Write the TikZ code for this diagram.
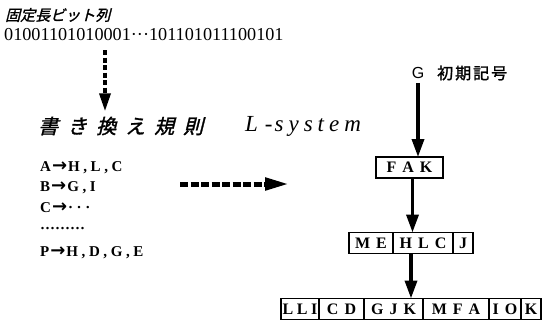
\documentclass[tikz,border=0pt]{standalone}
\usepackage{fontspec}
\setmainfont{Liberation Serif}
\newfontfamily\tms{Liberation Serif}
\newfontfamily\tmsls[LetterSpace=24]{Liberation Serif}
\newfontfamily\jpit[FakeSlant=0.25,FakeBold=1.5]{Noto Sans CJK JP}
\newfontfamily\jp[FakeBold=1.5]{Noto Sans CJK JP}
\newfontfamily\hv{Liberation Sans}
\newfontfamily\djv{DejaVu Sans}
\usetikzlibrary{arrows.meta}
\newcommand\lgap{\hspace{6pt}}
\newcommand\sgap{\hspace{3.5pt}}
\newcommand\rarr{\hspace{1pt}{\djv\bfseries\fontsize{18}{14}\selectfont →}\hspace{1pt}}
\tikzset{
  cell/.style={draw, line width=1.4pt, inner sep=0pt, outer sep=0pt, minimum height=21pt, anchor=west, font=\tms\bfseries\fontsize{16}{16}\selectfont},
  solidarrow/.style={line width=3.5pt, -{Triangle[length=18pt,width=12pt]}},
  dasharrow/.style={line width=3.5pt, dash pattern=on 5pt off 2.5pt, -{Triangle[length=18pt,width=11pt]}},
  bigdash/.style={line width=5pt, dash pattern=on 8pt off 2.5pt, -{Triangle[length=24pt,width=12pt]}},
  rule/.style={anchor=west, inner sep=0pt, font=\tmsls\bfseries\fontsize{15}{15}\selectfont},
}
\begin{document}
\begin{tikzpicture}[x=1pt,y=-1pt]
\useasboundingbox (0,0) rectangle (543,327);
% top left
\node[anchor=west, inner sep=0pt, font=\jpit\fontsize{15}{15}\selectfont] (title) at (5,15) {固定長ビット列};
\node[anchor=west, inner sep=0pt, font=\tms\fontsize{18.2}{18.2}\selectfont] (bits) at (4,35) {01001101010001···101101011100101};
\coordinate (d1) at (105,50);
\node[inner sep=0pt] (hdr) at (105,112) {};
\draw[dasharrow] (d1) -- (hdr.north);
% headings
\node[anchor=west, inner sep=0pt, font=\jpit\fontsize{20}{20}\selectfont] (rw) at (38,126) {書\hspace{9pt}き\hspace{9pt}換\hspace{9pt}え\hspace{9pt}規\hspace{9pt}則};
\node[anchor=west, inner sep=0pt, font=\itshape\fontsize{23}{23}\selectfont] (ls) at (245,126) {L\hspace{7pt}-\hspace{2pt}s\hspace{5pt}y\hspace{5pt}s\hspace{5pt}t\hspace{5pt}e\hspace{5pt}m};
% rules
\node[rule] (ra) at (40,168) {A\rarr H,L,C};
\node[rule] (rb) at (40,188) {B\rarr G,I};
\node[rule] (rc) at (40,208) {C\rarr ···};
\node[anchor=west, inner sep=0pt, font=\tms\bfseries\fontsize{15}{15}\selectfont] (rd) at (40,230) {·········};
\node[rule] (rp) at (40,253) {P\rarr H,D,G,E};
\coordinate (h1) at (180,184);
\coordinate (h2) at (289,184);
\draw[bigdash] (h1) -- (h2);
% L-system derivation
\node[inner sep=0pt, anchor=center, font=\hv\fontsize{16}{16}\selectfont] (g) at (418,73) {G};
\node[anchor=west, inner sep=0pt, font=\jp\fontsize{16}{16}\selectfont] (init) at (437,73) {初\hspace{2pt}期\hspace{2pt}記\hspace{2pt}号};
\node[cell, minimum width=67pt] (fak) at (376,167.5) {F\lgap A\lgap K};
\path (g.south) ++(0,4) coordinate (gs);
\draw[solidarrow] (gs) -- (fak.north -| gs);
% ME box
\node[cell, minimum width=44pt] (m1) at (349,243) {M\lgap E};
\node[cell, minimum width=60pt] (m2) at (m1.east) {H\lgap L\lgap C};
\node[cell, minimum width=20pt] (m3) at (m2.east) {J};
\draw[solidarrow] ([xshift=3pt]fak.south) -- ([xshift=3pt]fak.south |- m1.north);
% bottom box
\node[cell, minimum width=38pt] (b1) at (281,309) {L\sgap L\sgap I};
\node[cell, minimum width=45pt] (b2) at (b1.east) {C\lgap D};
\node[cell, minimum width=59pt] (b3) at (b2.east) {G\lgap J\lgap K};
\node[cell, minimum width=66pt] (b4) at (b3.east) {M\lgap F\lgap A};
\node[cell, minimum width=32pt] (b5) at (b4.east) {I\lgap O};
\node[cell, minimum width=20pt] (b6) at (b5.east) {K};
\coordinate (ma) at (411,253.5);
\draw[solidarrow] (ma) -- (ma |- b3.north);
\end{tikzpicture}
\end{document}
